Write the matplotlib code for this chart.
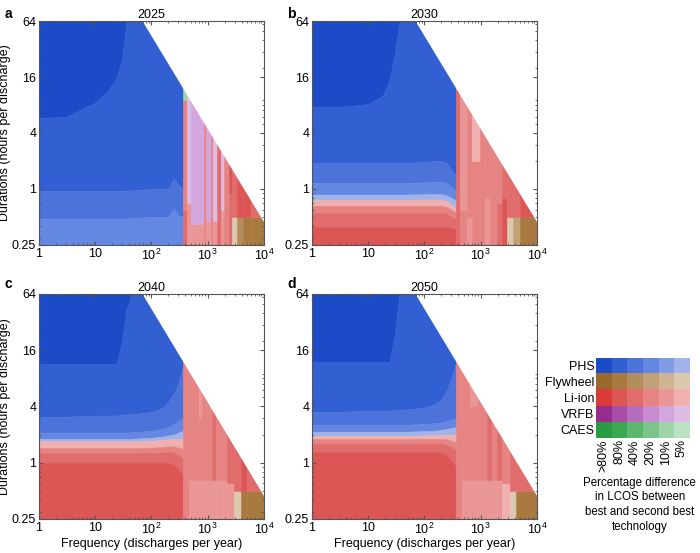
import numpy as np
import matplotlib
matplotlib.use("Agg")
import matplotlib.pyplot as plt
from matplotlib.colors import to_rgb

plt.rcParams['font.family'] = ['Liberation Sans', 'DejaVu Sans']
plt.rcParams['mathtext.fontset'] = 'custom'
plt.rcParams['mathtext.rm'] = 'Liberation Sans'
plt.rcParams['mathtext.it'] = 'Liberation Sans:italic'
plt.rcParams['mathtext.bf'] = 'Liberation Sans:bold'

# ---------------- data ----------------
years = [2025, 2030, 2040, 2050]
panel_letters = ['a', 'b', 'c', 'd']
technologies = ['PHS', 'Flywheel', 'Li-ion', 'VRFB', 'CAES']
tech_keys = ['P', 'F', 'L', 'V', 'C']
diff_labels = ['>80%', '80%', '40%', '20%', '10%', '5%']
max_hours = 4380  # feasible region: frequency * duration <= max_hours

palette = {
    'P': ['#1C4BC8', '#325FD2', '#4B73DA', '#6487E1', '#829BE6', '#A0B4EB'],
    'F': ['#98682C', '#A97A3F', '#B48D5C', '#C2A078', '#CFB594', '#DCC8AE'],
    'L': ['#DA3A3A', '#DC5656', '#E16C6C', '#E68383', '#EB9696', '#F0B0B0'],
    'V': ['#952C8E', '#A64DA6', '#B76DBE', '#C78DD0', '#D3A6DD', '#DDBCE6'],
    'C': ['#2A9A44', '#3AA850', '#5DB86E', '#7CC58A', '#9DD4A8', '#BCE2C4'],
}

# left region (frequency < 365): horizontal bands, boundaries top -> bottom
f_knots = [1, 3, 10, 18, 24, 30, 36, 45, 100, 150, 200, 250, 300, 365]

left_codes = {
    2025: ['P0', 'P1', 'P2', 'P3'],
    2030: ['P0', 'P1', 'P2', 'P3', 'P5', 'L5', 'L3', 'L2', 'L1'],
    2040: ['P0', 'P1', 'P2', 'P3', 'P5', 'L5', 'L3', 'L2', 'L1'],
    2050: ['P0', 'P1', 'P2', 'P3', 'P5', 'L5', 'L3', 'L2', 'L1'],
}
left_bounds = {
    2025: [
        [5.8, 6.0, 8.5, 12, 16, 25, 64, 64, 64, 64, 64, 64, 64, 64],
        [0.95, 0.95, 0.95, 0.95, 0.95, 0.96, 0.96, 0.97, 1.0, 1.0, 1.02, 1.3, 1.1, 1.0],
        [0.48, 0.48, 0.48, 0.48, 0.48, 0.48, 0.48, 0.49, 0.5, 0.5, 0.5, 0.62, 0.52, 0.5],
    ],
    2030: [
        [7.6, 7.6, 8.2, 10, 15, 30, 64, 64, 64, 64, 64, 64, 64, 64],
        [1.9, 1.9, 1.9, 1.9, 1.9, 1.9, 1.9, 1.9, 1.95, 2.0, 2.0, 1.9, 1.6, 1.4],
        [1.16, 1.16, 1.16, 1.16, 1.16, 1.16, 1.16, 1.16, 1.18, 1.2, 1.2, 1.15, 1.05, 0.95],
        [0.87, 0.87, 0.87, 0.87, 0.87, 0.87, 0.87, 0.87, 0.88, 0.88, 0.88, 0.85, 0.8, 0.75],
        [0.76, 0.76, 0.76, 0.76, 0.76, 0.76, 0.76, 0.76, 0.77, 0.77, 0.77, 0.74, 0.68, 0.62],
        [0.66, 0.66, 0.66, 0.66, 0.66, 0.66, 0.66, 0.66, 0.66, 0.66, 0.66, 0.64, 0.6, 0.56],
        [0.55, 0.55, 0.55, 0.55, 0.55, 0.55, 0.55, 0.55, 0.55, 0.55, 0.55, 0.54, 0.5, 0.48],
        [0.39, 0.39, 0.39, 0.39, 0.39, 0.39, 0.39, 0.39, 0.39, 0.39, 0.39, 0.39, 0.38, 0.37],
    ],
    2040: [
        [11.5, 11.5, 11.5, 11.4, 11.5, 20, 45, 64, 64, 64, 64, 64, 64, 64],
        [3.1, 3.1, 3.2, 3.2, 3.2, 3.25, 3.3, 3.3, 3.5, 3.8, 4.5, 5.5, 7.0, 11],
        [2.1, 2.1, 2.1, 2.1, 2.1, 2.1, 2.1, 2.12, 2.2, 2.3, 2.4, 2.6, 2.8, 3.0],
        [1.8, 1.8, 1.8, 1.8, 1.8, 1.8, 1.8, 1.8, 1.85, 1.9, 1.95, 2.0, 2.1, 2.2],
        [1.7, 1.7, 1.7, 1.7, 1.7, 1.7, 1.7, 1.7, 1.72, 1.75, 1.78, 1.8, 1.8, 1.8],
        [1.44, 1.44, 1.44, 1.44, 1.44, 1.44, 1.44, 1.44, 1.45, 1.47, 1.5, 1.5, 1.45, 1.4],
        [1.26, 1.26, 1.26, 1.26, 1.26, 1.26, 1.26, 1.26, 1.27, 1.28, 1.3, 1.28, 1.2, 1.1],
        [1.0, 1.0, 1.0, 1.0, 1.0, 1.0, 1.0, 1.0, 1.0, 1.0, 1.0, 0.95, 0.85, 0.72],
    ],
    2050: [
        [12, 12, 12, 12, 12, 25, 64, 64, 64, 64, 64, 64, 64, 64],
        [3.5, 3.5, 3.6, 3.6, 3.6, 3.65, 3.7, 3.7, 3.9, 4.2, 4.8, 6.0, 8.0, 12],
        [2.55, 2.55, 2.55, 2.55, 2.55, 2.55, 2.55, 2.55, 2.6, 2.65, 2.7, 2.8, 2.9, 3.0],
        [2.14, 2.14, 2.14, 2.14, 2.14, 2.14, 2.14, 2.14, 2.18, 2.2, 2.25, 2.3, 2.35, 2.4],
        [1.94, 1.94, 1.94, 1.94, 1.94, 1.94, 1.94, 1.94, 1.96, 1.98, 2.0, 2.0, 2.0, 2.0],
        [1.8, 1.8, 1.8, 1.8, 1.8, 1.8, 1.8, 1.8, 1.8, 1.8, 1.8, 1.78, 1.72, 1.65],
        [1.6, 1.6, 1.6, 1.6, 1.6, 1.6, 1.6, 1.6, 1.6, 1.6, 1.6, 1.55, 1.45, 1.35],
        [1.3, 1.3, 1.3, 1.3, 1.3, 1.3, 1.3, 1.3, 1.3, 1.3, 1.28, 1.2, 1.05, 0.9],
    ],
}

# right region (frequency >= 365): vertical stripes, codes bottom -> top
right_edges = {
    2025: [365, 422, 497, 860, 935, 1130, 1260, 1490, 1700, 1960, 2410, 2750, 3380, 4160, 5870],
    2030: [365, 430, 560, 700, 960, 1200, 1450, 1950, 2400, 2900, 3700, 5000],
    2040: [365, 460, 700, 800, 1200, 1400, 1900, 2200, 2900, 3900, 5000],
    2050: [365, 470, 650, 900, 1300, 1600, 1950, 2400, 3300, 4300],
}
right_codes = {
    2025: [['L2', 'L3', 'C4'], ['L4', 'V5'], ['L4', 'V4'], ['L3'], ['L4', 'V4'], ['L3'],
           ['L4', 'V5'], ['L2'], ['L4', 'V5'], ['L3'], ['L2', 'L1'], ['F5', 'L2'],
           ['F2', 'L1'], ['F1', 'L1'], ['F1', 'L2']],
    2030: [['L2'], ['L3', 'L4'], ['L4', 'L3'], ['L3', 'L5'], ['L3'], ['L4', 'L3'], ['L3'],
           ['L2', 'L3'], ['L1', 'L2'], ['F5', 'L2'], ['F3', 'L2'], ['F1', 'L1']],
    2040: [['L3'], ['L4', 'L3'], ['L4', 'L3', 'L4'], ['L4', 'L3'], ['L4', 'L2'], ['L4', 'L3'],
           ['L4', 'L3'], ['L4', 'L2'], ['F5', 'L2'], ['F1', 'L1'], ['F1', 'L2']],
    2050: [['L3'], ['L4', 'L3'], ['L4', 'L3', 'L4'], ['L4', 'L3'], ['L4', 'L2'], ['L4', 'L3'],
           ['L4', 'L2'], ['L5', 'L3'], ['F5', 'L2'], ['F1', 'L2']],
}
right_splits = {
    2025: [[0.6, 9], [0.7], [0.42], [], [0.45], [], [0.45], [], [0.6], [], [0.9],
           [0.5], [0.5], [0.5], [0.5]],
    2030: [[], [0.6], [0.5], [2.0], [], [0.8], [], [0.7], [0.8], [0.5], [0.5], [0.5]],
    2040: [[], [0.65], [0.65, 3], [0.65], [0.65], [0.65], [0.65], [0.6], [0.5], [0.5], [0.5]],
    2050: [[], [0.65], [0.65, 4], [0.65], [0.65], [0.65], [0.65], [0.6], [0.5], [0.5]],
}

# ---------------- drawing ----------------
F_MIN, F_MAX, D_MIN, D_MAX = 1, 1e4, 0.25, 64


def col(code):
    return palette[code[0]][int(code[1])]


fig = plt.figure(figsize=(7, 5.53), dpi=100)
positions = [[0.0557, 0.557, 0.3214, 0.405], [0.4457, 0.557, 0.3214, 0.405],
             [0.0557, 0.0615, 0.3214, 0.407], [0.4457, 0.0615, 0.3214, 0.407]]
letter_pos = [(0.006, 0.988), (0.41, 0.988), (0.006, 0.5), (0.41, 0.5)]
spine_c = '#555555'
FS = 9

for i, yr in enumerate(years):
    ax = fig.add_axes(positions[i])
    ax.set_xscale('log')
    ax.set_yscale('log')
    # left bands
    bounds = [[D_MAX] * len(f_knots)] + left_bounds[yr] + [[D_MIN] * len(f_knots)]
    for k, code in enumerate(left_codes[yr]):
        c = col(code)
        ax.fill_between(f_knots, bounds[k + 1], bounds[k], color=c, ec=c, lw=0.4, zorder=1)
    # right stripes
    edges = right_edges[yr] + [F_MAX]
    for s in range(len(right_codes[yr])):
        segb = [D_MIN] + right_splits[yr][s] + [D_MAX]
        for j, code in enumerate(right_codes[yr][s]):
            c = col(code)
            ax.fill_between([edges[s], edges[s + 1]], segb[j], segb[j + 1],
                            color=c, ec=c, lw=0.4, zorder=1)
    # infeasible region
    ff = np.geomspace(F_MIN, F_MAX, 400)
    ax.fill_between(ff, np.clip(max_hours / ff, D_MIN, D_MAX), D_MAX * 1.01,
                    color='white', lw=0, zorder=1.5)
    ax.set_xlim(F_MIN, F_MAX)
    ax.set_ylim(D_MIN, D_MAX)
    ax.set_xticks([1, 10, 100, 1000, 10000])
    ax.set_xticklabels(['1', '10', '$10^2$', '$10^3$', '$10^4$'])
    ax.set_yticks([0.25, 1, 4, 16, 64])
    ax.set_yticklabels(['0.25', '1', '4', '16', '64'])
    ax.tick_params(which='both', direction='in', top=True, right=True,
                   color=spine_c, labelsize=FS, pad=2)
    ax.tick_params(which='major', length=3)
    ax.tick_params(which='minor', length=1.5)
    for sp in ax.spines.values():
        sp.set_color(spine_c)
        sp.set_linewidth(0.8)
    ax.set_title(str(yr), fontsize=FS, pad=2)
    if i % 2 == 0:
        ax.set_ylabel('Durations (hours per discharge)', fontsize=FS, labelpad=1)
    if i >= 2:
        ax.set_xlabel('Frequency (discharges per year)', fontsize=FS, labelpad=1)
    fig.text(letter_pos[i][0], letter_pos[i][1], panel_letters[i], fontsize=10,
             fontweight='bold', va='top', ha='left')

# legend image
lax = fig.add_axes([0.851, 0.208, 0.134, 0.1447])
img = np.array([[to_rgb(palette[t][k]) for k in range(6)] for t in tech_keys])
lax.imshow(img, aspect='auto', interpolation='nearest')
lax.set_yticks(range(len(technologies)))
lax.set_yticklabels(technologies, fontsize=FS)
lax.set_xticks(range(len(diff_labels)))
lax.set_xticklabels(diff_labels, rotation=90, fontsize=FS)
lax.tick_params(length=0, pad=1)
for sp in lax.spines.values():
    sp.set_visible(False)
fig.text(0.914, 0.138, 'Percentage difference\nin LCOS between\nbest and second best\ntechnology',
         ha='center', va='top', fontsize=8.3, linespacing=1.3)

fig.savefig('out.png', dpi=100)
